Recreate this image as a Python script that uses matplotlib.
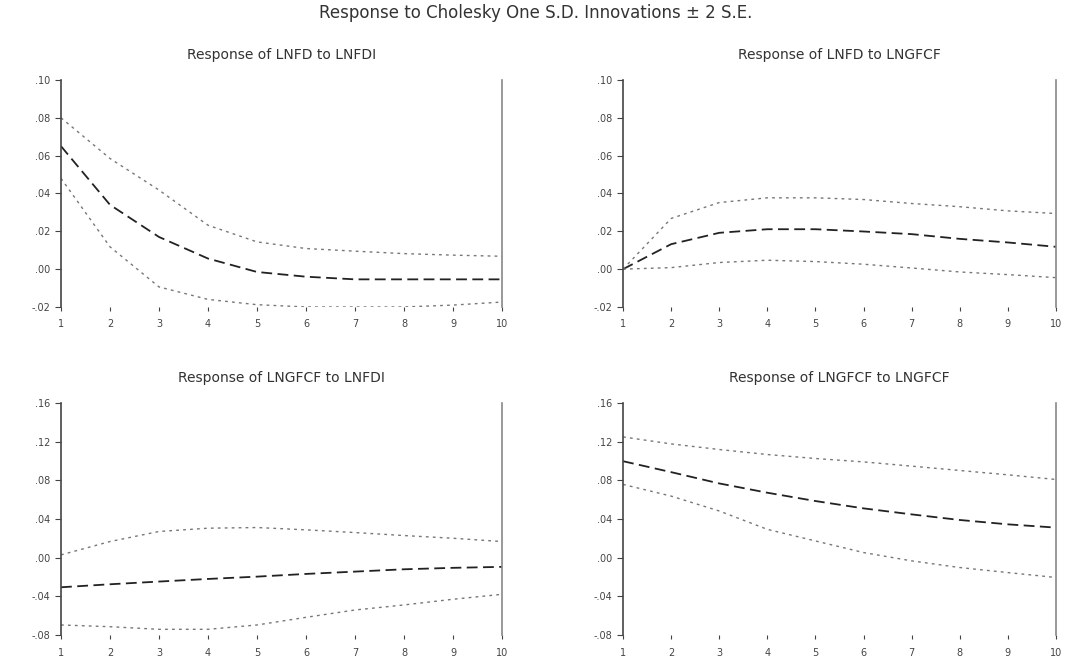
import numpy as np
import matplotlib
matplotlib.use("Agg")
import matplotlib.pyplot as plt

periods = list(range(1, 11))

# Response of LNFD to LNFDI
fd_fdi = [0.065, 0.034, 0.017, 0.0056, -0.0015, -0.004, -0.0054, -0.0054, -0.0054, -0.0054]
fd_fdi_hi = [0.080, 0.0585, 0.0418, 0.0232, 0.0144, 0.0109, 0.0095, 0.0082, 0.0074, 0.0068]
fd_fdi_lo = [0.048, 0.0118, -0.0094, -0.016, -0.0188, -0.020, -0.020, -0.020, -0.019, -0.0174]

# Response of LNFD to LNGFCF
fd_gf = [0.0, 0.0132, 0.0192, 0.0211, 0.0211, 0.0199, 0.0185, 0.016, 0.0141, 0.0118]
fd_gf_hi = [0.0, 0.0268, 0.0352, 0.0377, 0.0377, 0.0368, 0.0347, 0.033, 0.0308, 0.0294]
fd_gf_lo = [0.0, 0.0008, 0.0035, 0.0047, 0.004, 0.0026, 0.0006, -0.0015, -0.0029, -0.0045]

# Response of LNGFCF to LNFDI
gf_fdi = [-0.0306, -0.0275, -0.0247, -0.022, -0.0196, -0.0168, -0.0144, -0.012, -0.0105, -0.0095]
gf_fdi_hi = [0.0029, 0.0167, 0.0271, 0.0305, 0.0312, 0.0288, 0.026, 0.0229, 0.0201, 0.0167]
gf_fdi_lo = [-0.0696, -0.0714, -0.0741, -0.0741, -0.0696, -0.0617, -0.0541, -0.0489, -0.043, -0.0379]

# Response of LNGFCF to LNGFCF
gf_gf = [0.0998, 0.0885, 0.0768, 0.0672, 0.0586, 0.051, 0.0448, 0.039, 0.0345, 0.0311]
gf_gf_hi = [0.1249, 0.1177, 0.1119, 0.1067, 0.1026, 0.0991, 0.0947, 0.0902, 0.0857, 0.0809]
gf_gf_lo = [0.0758, 0.0637, 0.0483, 0.0293, 0.0173, 0.0053, -0.0033, -0.0102, -0.0154, -0.0205]

top_ticks = [-0.02, 0.0, 0.02, 0.04, 0.06, 0.08, 0.10]
top_labels = ["-.02", ".00", ".02", ".04", ".06", ".08", ".10"]
bot_ticks = [-0.08, -0.04, 0.0, 0.04, 0.08, 0.12, 0.16]
bot_labels = ["-.08", "-.04", ".00", ".04", ".08", ".12", ".16"]

panels = [
    ("Response of LNFD to LNFDI", fd_fdi, fd_fdi_hi, fd_fdi_lo, top_ticks, top_labels, [0.0569, 0.5356, 0.4114, 0.3434]),
    ("Response of LNFD to LNGFCF", fd_gf, fd_gf_hi, fd_gf_lo, top_ticks, top_labels, [0.5812, 0.5356, 0.4039, 0.3434]),
    ("Response of LNGFCF to LNFDI", gf_fdi, gf_fdi_hi, gf_fdi_lo, bot_ticks, bot_labels, [0.0569, 0.0393, 0.4114, 0.3510]),
    ("Response of LNGFCF to LNGFCF", gf_gf, gf_gf_hi, gf_gf_lo, bot_ticks, bot_labels, [0.5812, 0.0393, 0.4039, 0.3510]),
]

fig = plt.figure(figsize=(10.72, 6.61), dpi=100)
fig.text(0.5, 0.981, "Response to Cholesky One S.D. Innovations \u00b1 2 S.E.",
         ha="center", va="center", fontsize=12, color="#333333")

for title, resp, hi, lo, ticks, labels, pos in panels:
    ax = fig.add_axes(pos)
    ax.plot(periods, resp, color="#222222", lw=1.3, ls=(0, (6, 3)))
    ax.plot(periods, hi, color="#777777", lw=1.0, ls=(0, (2, 3)))
    ax.plot(periods, lo, color="#777777", lw=1.0, ls=(0, (2, 3)))
    ax.set_xlim(1, 10)
    ax.set_ylim(ticks[0], ticks[-1])
    ax.set_yticks(ticks)
    ax.set_yticklabels(labels)
    ax.set_xticks(periods)
    ax.set_title(title, fontsize=10, color="#333333", pad=15)
    ax.spines["top"].set_visible(False)
    ax.spines["bottom"].set_visible(False)
    ax.spines["left"].set_color("#444444")
    ax.spines["right"].set_color("#888888")
    ax.spines["left"].set_linewidth(1.2)
    ax.spines["right"].set_linewidth(1.2)
    ax.tick_params(axis="y", labelsize=7, colors="#444444", length=4, direction="out")
    ax.tick_params(axis="x", labelsize=7, colors="#444444", length=3, pad=6)

fig.savefig("out.png", dpi=100)
